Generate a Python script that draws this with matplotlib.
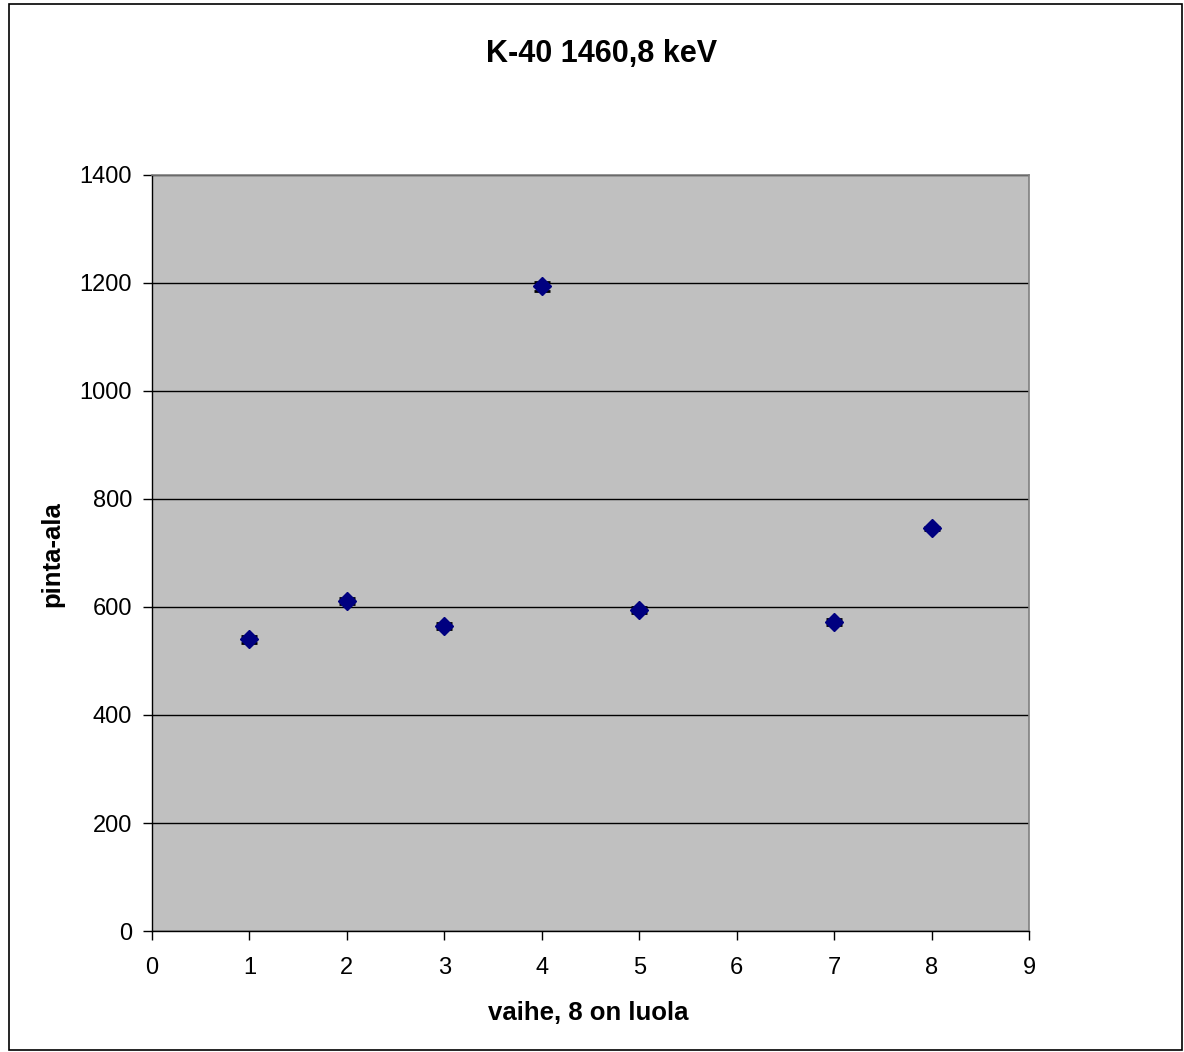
import matplotlib.pyplot as plt

plt.rcParams['font.family'] = ['Liberation Sans', 'DejaVu Sans']

# data
vaihe = [1, 2, 3, 4, 5, 7, 8]
pinta_ala = [540, 611, 565, 1194, 594, 572, 746]
virhe = [7, 6, 6, 8, 6, 6, 3]

fig = plt.figure(figsize=(11.84, 10.52), dpi=100)
# frame around the whole chart
fig.patches.append(plt.Rectangle((0.008, 0.002), 0.990, 0.994, transform=fig.transFigure,
                                 fill=False, edgecolor='black', linewidth=1.2))

ax = fig.add_axes([0.1284, 0.115, 0.7407, 0.7187])
ax.set_facecolor('#c0c0c0')

ax.errorbar(vaihe, pinta_ala, yerr=virhe, fmt='none', ecolor='black',
            elinewidth=1, capsize=5.5, capthick=2, zorder=3)
ax.plot(vaihe, pinta_ala, linestyle='none', marker='D', markersize=9,
        color='#000080', zorder=4)

ax.set_xlim(0, 9)
ax.set_ylim(0, 1400)
ax.set_xticks(range(0, 10))
ax.set_yticks(range(0, 1401, 200))
ax.yaxis.grid(True, color='black', linewidth=1)
ax.set_axisbelow(True)

for s in ['top', 'right']:
    ax.spines[s].set_color('#808080')
    ax.spines[s].set_linewidth(1.2)
for s in ['left', 'bottom']:
    ax.spines[s].set_color('black')
    ax.spines[s].set_linewidth(1)

ax.tick_params(axis='both', direction='out', length=6.5, width=1, labelsize=17)
ax.tick_params(axis='x', pad=12)
ax.tick_params(axis='y', pad=8)

fig.text(602 / 1184, 1 - 54 / 1052, 'K-40 1460,8 keV', fontsize=22, fontweight='bold',
         ha='center', va='center')
fig.text(588 / 1184, 1 - 1013 / 1052, 'vaihe, 8 on luola', fontsize=18.5, fontweight='bold',
         ha='center', va='center')
fig.text(52 / 1184, 1 - 554 / 1052, 'pinta-ala', fontsize=18.5, fontweight='bold',
         ha='center', va='center', rotation=90)

fig.savefig('out.png', dpi=100)
